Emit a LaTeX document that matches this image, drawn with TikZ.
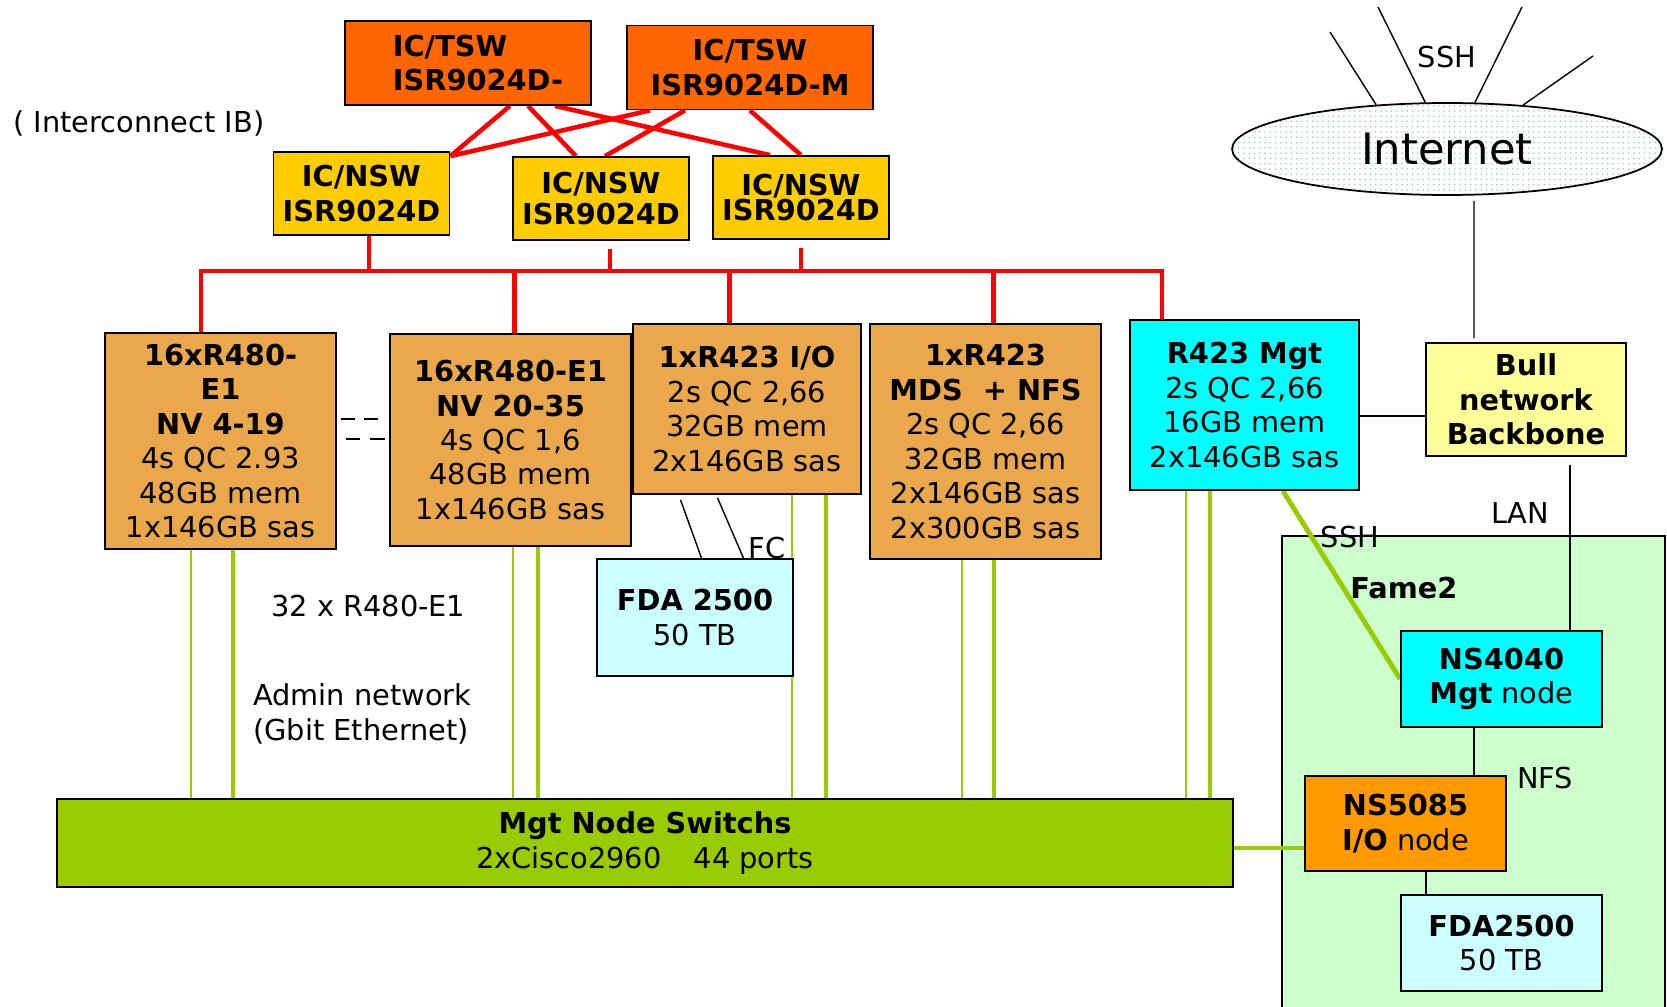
\documentclass[tikz,border=0pt]{standalone}
\usepackage{fontspec}
\setmainfont{DejaVu Sans}
\usepackage{xcolor}
\usepackage{tikz}
\usetikzlibrary{shapes.geometric, patterns, backgrounds, positioning}
\definecolor{tsworange}{HTML}{FF6600}
\definecolor{nswyellow}{HTML}{FFCC00}
\definecolor{nodetan}{HTML}{EBA74C}
\definecolor{mgtcyan}{HTML}{00FFFF}
\definecolor{bullyellow}{HTML}{FFFF99}
\definecolor{fdacyan}{HTML}{CCFFFF}
\definecolor{swgreen}{HTML}{99CC00}
\definecolor{famegreen}{HTML}{CCFFCC}
\definecolor{ioorange}{HTML}{FF9900}
\definecolor{dotcyan}{HTML}{8FCACA}
\newcommand{\dgfont}{\fontsize{16.4}{19.6}\selectfont}
\tikzset{
  boxbase/.style={rectangle, draw=black, line width=1pt, inner sep=0pt, align=center},
  tsw/.style={boxbase, fill=tsworange, minimum width=4.92cm, minimum height=1.68cm, font=\dgfont\bfseries},
  nsw/.style={boxbase, fill=nswyellow, minimum width=3.52cm, minimum height=1.66cm, font=\dgfont\bfseries},
  server/.style={boxbase, fill=nodetan},
  mgtbox/.style={boxbase, fill=mgtcyan},
  storage/.style={boxbase, fill=fdacyan},
  redlink/.style={draw=red, line width=2.6pt},
  gthin/.style={draw=swgreen, line width=1.2pt},
  gthick/.style={draw=swgreen, line width=2.8pt},
  blk/.style={draw=black, line width=0.8pt},
}

\begin{document}
\begin{tikzpicture}[x=0.02cm, y=-0.02cm, font=\dgfont, every node/.style={inner sep=0pt}]
\useasboundingbox (0,0) rectangle (1667,1007);
% Infiniband switches
\node[tsw, align=left] (tsw1) at (468,63) {\hspace*{0.4cm}IC/TSW\\\hspace*{0.4cm}ISR9024D-};
\node[tsw] (tsw2) at (750,67.5) {IC/TSW\\ISR9024D-M};
\node[nsw] (nsw1) at (361.5,193.5) {IC/NSW\\ISR9024D};
\node[nsw] (nsw2) at (601,198.5) {IC/NSW\\[-2pt]ISR9024D};
\node[nsw] (nsw3) at (801,197.5) {IC/NSW\\[-5pt]ISR9024D};
% compute and service nodes
\node[server, minimum width=4.62cm, minimum height=4.32cm] (nv1) at (220.5,441) {\textbf{16xR480-}\\\textbf{E1}\\\textbf{NV 4-19}\\4s QC 2.93\\48GB mem\\1x146GB sas};
\node[server, minimum width=4.82cm, minimum height=4.24cm] (nv2) at (510.5,440) {\textbf{16xR480-E1}\\\textbf{NV 20-35}\\4s QC 1,6\\48GB mem\\1x146GB sas};
\node[server, minimum width=4.56cm, minimum height=3.40cm] (io) at (747,409) {\textbf{1xR423 I/O}\\2s QC 2,66\\32GB mem\\2x146GB sas};
\node[server, minimum width=4.62cm, minimum height=4.70cm] (mds) at (985.5,441.5) {\textbf{1xR423}\\\textbf{MDS\ \ + NFS}\\2s QC 2,66\\32GB mem\\2x146GB sas\\2x300GB sas};
\node[mgtbox, minimum width=4.58cm, minimum height=3.40cm] (mgt) at (1244.5,405) {\textbf{R423 Mgt}\\2s QC 2,66\\16GB mem\\2x146GB sas};
\node[boxbase, fill=bullyellow, minimum width=4.00cm, minimum height=2.26cm, font=\dgfont\bfseries] (bull) at (1526,399.5) {\rule{0pt}{0.2cm}Bull\\network\\Backbone};
\node[storage, minimum width=3.92cm, minimum height=2.34cm] (fda) at (695,617.5) {\textbf{FDA 2500}\\50 TB};
\node[boxbase, fill=swgreen, minimum width=23.52cm, minimum height=1.76cm] (sw) at (645,843) {\textbf{Mgt Node Switchs}\\2xCisco2960\hspace{1.12em}44 ports};
\node[ellipse, draw, line width=1pt, pattern=dots, pattern color=dotcyan, minimum width=8.6cm, minimum height=1.84cm, font=\fontsize{24.6}{29}\selectfont] (inet) at (1447,149) {Internet};
% Fame2 cluster
\node[mgtbox, minimum width=4.02cm, minimum height=1.92cm] (mgtnode) at (1501.5,679) {\textbf{NS4040}\\\textbf{Mgt} node};
\node[boxbase, fill=ioorange, minimum width=4.02cm, minimum height=1.90cm] (ionode) at (1405.5,823.5) {\textbf{NS5085}\\\textbf{I/O} node};
\node[storage, minimum width=4.02cm, minimum height=1.92cm] (fda2) at (1501.5,943) {\textbf{FDA2500}\\50 TB};
\node[anchor=west, font=\dgfont\bfseries] (famelbl) at (1350,588) {Fame2};
% labels
\node[anchor=west] (iblbl) at (13,123) {( Interconnect IB)};
\node[anchor=west] (cntlbl) at (271,606) {32 x R480-E1};
\node[anchor=west, align=left] (adminlbl) at (253,714) {Admin network\\(Gbit Ethernet)};
\node (fclbl) at (767,548) {FC};
\node (sshtop) at (1447,57) {SSH};
\node (sshlbl) at (1350,537) {SSH};
\node (lanlbl) at (1520,513) {LAN};
\node (nfslbl) at (1545,778) {NFS};

\begin{scope}[on background layer]
\filldraw[fill=famegreen, draw=black, line width=0.8pt] (1282,1007) -- (1282,536) -- (1665,536) -- (1665,1007);
% IB links
\coordinate (bus) at (0,271);
\draw[redlink] ([xshift=-0.39cm]nv1.north) |- ([xshift=-1.65cm]mgt.north |- bus) -- ([xshift=-1.65cm]mgt.north);
\foreach \n/\dx in {nv2/0.08, io/-0.35, mds/0.16}
  \draw[redlink] ([xshift=\dx cm]\n.north) -- ([xshift=\dx cm]\n.north |- bus);
\draw[redlink] ([xshift=0.15cm]nsw1.south) -- ([xshift=0.15cm]nsw1.south |- bus);
\draw[redlink] ([xshift=0.18cm,yshift=-0.16cm]nsw2.south) -- ([xshift=0.18cm]nsw2.south |- bus);
\draw[redlink] ([yshift=-0.16cm]nsw3.south) -- (nsw3.south |- bus);
\draw[redlink] ([xshift=0.84cm]tsw1.south) -- ([yshift=-0.1cm]nsw1.north east);
\draw[redlink] ([xshift=1.2cm]tsw1.south) -- ([xshift=-0.5cm]nsw2.north);
\draw[redlink] ([xshift=1.74cm]tsw1.south) -- ([xshift=-0.62cm]nsw3.north);
\draw[redlink] ([xshift=-2.0cm]tsw2.south) -- ([yshift=-0.1cm]nsw1.north east);
\draw[redlink] ([xshift=-1.3cm]tsw2.south) -- ([xshift=0.08cm]nsw2.north);
\draw[redlink] (tsw2.south) -- (nsw3.north);
% admin network
\foreach \n/\a/\b in {nv1/-0.59/0.25, nv2/0.05/0.55, io/0.9/1.58, mds/-0.47/0.17, mgt/-1.17/-0.69} {
  \draw[gthin] ([xshift=\a cm]\n.south) -- ([xshift=\a cm]\n.south |- sw.north);
  \draw[gthick] ([xshift=\b cm]\n.south) -- ([xshift=\b cm]\n.south |- sw.north);
}
\draw[gthick] ([yshift=-0.1cm]sw.east) -- ([yshift=-0.1cm]sw.east -| ionode.west);
\draw[gthick] ([xshift=-1.54cm]mgt.south east) -- (mgtnode.west);
% LAN, SSH, FC
\foreach \ang/\px/\py [count=\i] in {148/1330/32, 115/1378/7, 59/1522/7, 30/1593/56} {
  \coordinate (ssh\i) at (\px,\py);
  \draw[blk] (inet.\ang) -- (ssh\i);
}
\draw[blk] ([xshift=0.54cm,yshift=-0.1cm]inet.south) -- ([xshift=-1.04cm,yshift=0.08cm]bull.north);
\draw[blk] ([yshift=-0.22cm]mgt.east) -- ([yshift=-0.22cm]mgt.east -| bull.west);
\draw[blk] ([xshift=0.88cm,yshift=-0.16cm]bull.south) -- ([xshift=0.88cm]bull.south |- mgtnode.north);
\draw[blk] ([xshift=-0.55cm]mgtnode.south) -- ([xshift=-0.55cm]mgtnode.south |- ionode.north);
\draw[blk] ([xshift=0.41cm]ionode.south) -- ([xshift=0.41cm]ionode.south |- fda2.north);
\draw[blk] ([xshift=-1.33cm,yshift=-0.1cm]io.south) -- ([xshift=0.13cm]fda.north);
\draw[blk] ([xshift=-0.59cm,yshift=-0.06cm]io.south) -- ([xshift=0.97cm]fda.north);
\draw[blk, dash pattern=on 8pt off 5pt] ([xshift=0.08cm,yshift=0.44cm]nv1.east) -- +(40,0);
\draw[blk, dash pattern=on 8pt off 6pt on 8pt off 8pt on 1pt off 2pt] ([xshift=0.18cm,yshift=0.04cm]nv1.east) -- ([yshift=0.04cm]nv1.east -| nv2.west);
\end{scope}
\end{tikzpicture}
\end{document}
